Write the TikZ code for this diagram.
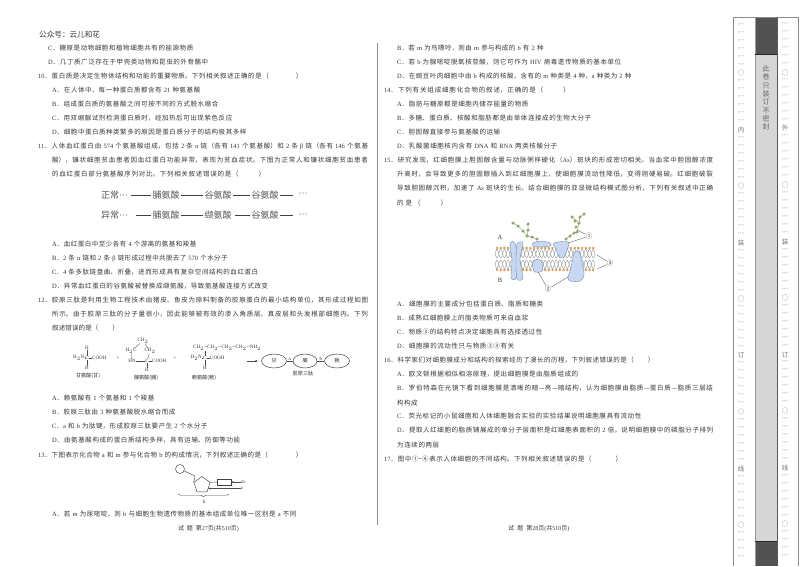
\documentclass[tikz,border=0pt]{standalone}
\usepackage{fontspec}
\usetikzlibrary{shapes.geometric,decorations.pathreplacing,arrows.meta,calc}
\setmainfont{Noto Sans CJK SC}
\newfontfamily\latf{Liberation Serif}
\newcommand\EN[1]{{\latf #1}}
\XeTeXlinebreaklocale "zh"
\XeTeXlinebreakskip=0pt plus 8pt minus 0.2pt
\newcounter{tc}
\definecolor{ink}{gray}{0.22}
\definecolor{prot}{HTML}{C9D8F2}
\definecolor{protl}{HTML}{6F86A8}
\definecolor{headc}{HTML}{D9A05F}
\definecolor{sug}{HTML}{B9CE7A}
\definecolor{sugl}{HTML}{5F7F4A}
\newcommand\body{\fontsize{6.5}{8}\selectfont}
\newcommand\txtl[4]{\stepcounter{tc}\node[bodytext,text width=\dimexpr#3pt-#1pt\relax] (t\arabic{tc}) at (#1,#2)
  {\noindent\parfillskip=0pt\tolerance=10000\hbadness=10000\hfuzz=5pt\strut#4\par};}
\newcommand\dotscol[1]{\foreach \yy in {#1} {\node[dotmark] at (\cx,\yy) {···};}}
\tikzset{
  bodytext/.style={anchor=west,inner sep=0pt,text=ink,font=\body},
  dotmark/.style={inner sep=0pt,text=black!70,font=\latf\fontsize{6.5}{7}\selectfont},
  marktext/.style={inner sep=0pt,text=black!55,font=\fontsize{6.5}{7}\selectfont},
  amino/.style={inner sep=1pt,text=black!65,font=\fontsize{9}{10}\selectfont},
  aminoline/.style={line width=0.9pt,black!75},
  chem/.style={inner sep=0pt,text=ink,font=\latf\fontsize{5}{6}\selectfont},
  chemlab/.style={inner sep=0pt,text=ink,font=\fontsize{5.2}{6}\selectfont},
  bond/.style={line width=0.3pt,black!70},
  aaell/.style={draw=black!80,line width=0.45pt,ellipse,inner sep=0pt,text=ink,font=\fontsize{5}{6}\selectfont},
  protein/.style={fill=prot,draw=protl,line width=0.35pt},
  sugar/.style={circle,fill=sug,draw=sugl,line width=0.3pt,inner sep=0pt,minimum size=2.6pt},
  callout/.style={line width=0.3pt,black!70},
  circnum/.style={inner sep=0pt,text=ink,font=\fontsize{6.5}{7}\selectfont},
  nucl/.style={draw=black!70,line width=0.45pt}
}
\begin{document}
\begin{tikzpicture}[x=1pt,y=-1pt]
\useasboundingbox (0,0) rectangle (800,566);
\fill[white] (0,0) rectangle (800,566);
% page rules
\draw[black!45,line width=0.6pt] (377,43) -- (377,525);
% binding margin
\fill[black!16] (755,17) rectangle (777,566);
\fill[black!68] (755,17) rectangle (777,54.5);
\fill[black!68] (755,541) rectangle (777,566);
\draw[black!45,line width=0.8pt] (733,566) -- (733,17) -- (798,17) -- (798,566);
\draw[black!40,line width=0.8pt] (755,17) -- (755,566);
\draw[black!65,line width=0.8pt] (777,17) -- (777,566);
\draw[black!85,line width=0.6pt] (755,54.5) -- (777,54.5) (755,541) -- (777,541);
\node[inner sep=0pt,text=black!60,align=center,font=\fontsize{7}{8.3}\selectfont] (seal) at (766,98) {此\\卷\\只\\装\\订\\不\\密\\封};
\def\cx{741}
\dotscol{25,33,41,49,57,65,81,89,97,105,113,121,138,146,154,162,170,178,194,202,210,218,226,234,251,259,267,275,283,291,307,315,323,331,339,347,363,371,379,387,395,403,420,428,436,444,452,460,477,485,493,501,509,517,533,541,549,557}
\node[marktext] (l1) at (\cx,73) {○}; \node[marktext] (l2) at (\cx,130) {内}; \node[marktext] (l3) at (\cx,186) {○};
\node[marktext] (l4) at (\cx,243) {装}; \node[marktext] (l5) at (\cx,299) {○}; \node[marktext] (l6) at (\cx,355) {订};
\node[marktext] (l7) at (\cx,412) {○}; \node[marktext] (l8) at (\cx,469) {线}; \node[marktext] (l9) at (\cx,525) {○};
\def\cx{785}
\dotscol{24,32,40,48,56,64,80,88,96,104,112,120,136,144,152,160,168,176,193,201,209,217,225,233,250,258,266,274,282,290,306,314,322,330,338,346,362,370,378,386,394,402,419,427,435,443,451,459,476,484,492,500,508,516,532,540,548,556}
\node[marktext] (r1) at (\cx,73) {○}; \node[marktext] (r2) at (\cx,128) {外}; \node[marktext] (r3) at (\cx,185) {○};
\node[marktext] (r4) at (\cx,242) {装}; \node[marktext] (r5) at (\cx,298) {○}; \node[marktext] (r6) at (\cx,355) {订};
\node[marktext] (r7) at (\cx,411) {○}; \node[marktext] (r8) at (\cx,468) {线}; \node[marktext] (r9) at (\cx,524) {○};

% left column
\node[anchor=west,inner sep=0pt,text=ink,font=\fontsize{7.6}{9}\selectfont] (wx) at (39,35) {公众号：云儿和花};
\txtl{48}{49}{194}{\EN{C}．糖原是动物细胞和植物细胞共有的能源物质}
\txtl{48}{63}{209}{\EN{D}．几丁质广泛存在于甲壳类动物和昆虫的外骨骼中}
\txtl{38}{77}{303}{\EN{10}．蛋白质是决定生物体结构和功能的重要物质。下列相关叙述正确的是（\hspace{27pt}）}
\txtl{52}{91}{201}{\EN{A}．在人体中，每一种蛋白质都含有\EN{ 21 }种氨基酸}
\txtl{52}{105}{219}{\EN{B}．组成蛋白质的氨基酸之间可按不同的方式脱水缩合}
\txtl{52}{118.5}{233}{\EN{C}．用双缩脲试剂检测蛋白质时，经加热后可出现紫色反应}
\txtl{52}{133}{247}{\EN{D}．细胞中蛋白质种类繁多的原因是蛋白质分子的结构极其多样}
\txtl{38}{147}{369}{\EN{11}．人体血红蛋白由\EN{ 574 }个氨基酸组成，包括\EN{ 2 }条\EN{ α }链（各有\EN{ 141 }个氨基酸）和\EN{ 2 }条\EN{ β }链（各有\EN{ 146 }个氨基}
\txtl{52}{161}{369}{酸），镰状细胞贫血患者因血红蛋白功能异常，表现为贫血症状。下图为正常人和镰状细胞贫血患者}
\txtl{52}{175}{266}{的血红蛋白部分氨基酸序列对比。下列相关叙述错误的是（\hspace{20pt}）}
% amino acid rows
\node[amino,anchor=west] (a0) at (100,195) {正常{\latf ···}};
\node[amino] (a1) at (166,195) {脯氨酸};
\node[amino] (a2) at (218,195) {谷氨酸};
\node[amino] (a3) at (265,195) {谷氨酸};
\node[amino,font=\latf\fontsize{9}{10}\selectfont] (a4) at (303,195) {···};
\draw[aminoline] ([xshift=2pt]a0.east) -- (a1);
\draw[aminoline] (a1) -- (a2);
\draw[aminoline] (a2) -- (a3);
\draw[aminoline] (a3) -- ([xshift=-4pt]a4.west);
\node[amino,anchor=west] (b0) at (100,215.5) {异常{\latf ···}};
\node[amino] (b1) at (166,215.5) {脯氨酸};
\node[amino] (b2) at (218,215.5) {缬氨酸};
\node[amino] (b3) at (265,215.5) {谷氨酸};
\node[amino,font=\latf\fontsize{9}{10}\selectfont] (b4) at (303,215.5) {···};
\draw[aminoline] ([xshift=7pt]b0.east) -- (b1);
\draw[aminoline] (b1) -- (b2);
\draw[aminoline] ([xshift=2pt]b2.east) -- (b3);
\draw[aminoline] (b3) -- ([xshift=-4pt]b4.west);
\txtl{52}{245}{197}{\EN{A}．血红蛋白中至少各有\EN{ 4 }个游离的氨基和羧基}
\txtl{52}{259}{228}{\EN{B}．\EN{2 }条\EN{ α }链和\EN{ 2 }条\EN{ β }链形成过程中共脱去了\EN{ 570 }个水分子}
\txtl{52}{273}{259}{\EN{C}．\EN{4 }条多肽链盘曲、折叠，进而形成具有复杂空间结构的血红蛋白}
\txtl{52}{287}{269}{\EN{D}．异常血红蛋白的谷氨酸被替换成缬氨酸，导致氨基酸连接方式改变}
\txtl{38}{301}{369}{\EN{12}．胶原三肽是利用生物工程技术由猪皮、鱼皮为原料制备的胶原蛋白的最小结构单位，其形成过程如图}
\txtl{52}{315}{369}{所示。由于胶原三肽的分子量很小，因此能够被有效的渗入角质层、真皮层和头发根部细胞内。下列}
\txtl{52}{329}{119}{叙述错误的是（\hspace{14pt}）}
% chemistry
\node[chem,anchor=east] (g1) at (84.5,358) {H$_2$N};
\node[chem] (g2) at (87,358) {C};
\node[chem,anchor=west] (g3) at (92,358) {COOH};
\node[chem] (g4) at (87,348) {H};
\node[chem] (g5) at (87,368) {H};
\draw[bond] (g1) -- (g2); \draw[bond] (g2) -- (g3); \draw[bond] (g4) -- (g2); \draw[bond] (g2) -- (g5);
\node[chemlab] (g6) at (88,376) {甘氨酸(甘)};
\node[chem] (plus1) at (118,358) {+};
\node[chem] (p1) at (143,341) {CH$_2$};
\node[chem] (p2) at (131,351) {H$_2$C};
\node[chem] (p3) at (150,351) {CH$_2$};
\node[chem] (p4) at (132,361) {HN};
\node[chem] (p5) at (147,361) {C};
\node[chem,anchor=west] (p6) at (152,361) {COOH};
\node[chem] (p7) at (147,370) {H};
\draw[bond] (p1) -- (p2); \draw[bond] (p1) -- (p3); \draw[bond] (p2) -- (p4); \draw[bond] (p4) -- (p5); \draw[bond] (p3) -- (p5); \draw[bond] (p5) -- (p6); \draw[bond] (p5) -- (p7);
\node[chemlab] (p8) at (146,377.5) {脯氨酸(脯)};
\node[chem] (plus2) at (175,358) {+};
\node[chem,anchor=east] (k1) at (202,358) {H$_2$N};
\node[chem] (k2) at (205,358) {C};
\node[chem,anchor=west] (k3) at (210,358) {COOH};
\node[chem,anchor=west] (k4) at (193,348) {CH$_2$--CH$_2$--CH$_2$--CH$_2$--NH$_2$};
\node[chem] (k5) at (205,368) {H};
\draw[bond] (k1) -- (k2); \draw[bond] (k2) -- (k3); \draw[bond] (k2) -- (k2|-k4.south); \draw[bond] (k2) -- (k5);
\node[chemlab] (k6) at (204,378) {赖氨酸(赖)};
\coordinate (ar1) at (247,361);
\coordinate (ar2) at (258,361);
\draw[bond,line width=0.5pt,-{Stealth[length=3pt,width=2.4pt]}] (ar1) -- (ar2);
\node[aaell,minimum width=25pt,minimum height=14pt] (e1) at (274,361) {甘};
\node[aaell,minimum width=24pt,minimum height=14pt] (e2) at (305,361) {脯};
\node[aaell,minimum width=25pt,minimum height=14pt] (e3) at (337,361) {赖};
\draw[bond,line width=0.4pt] (e1) -- node[chem,above,yshift=0.5pt] (ea) {a} (e2);
\draw[bond,line width=0.4pt] (e2) -- node[chem,above,yshift=0.5pt] (eb) {b} (e3);
\node[chemlab] (elab) at (303,374) {胶原三肽};
\txtl{52}{399}{155}{\EN{A}．赖氨酸有\EN{ 1 }个氨基和\EN{ 1 }个羧基}
\txtl{52}{413}{176}{\EN{B}．胶原三肽由\EN{ 3 }种氨基酸脱水缩合而成}
\txtl{52}{427}{208}{\EN{C}．\EN{a }和\EN{ b }为肽键，形成胶原三肽要产生\EN{ 2 }个水分子}
\txtl{52}{441}{241}{\EN{D}．由氨基酸构成的蛋白质结构多样，具有运输、防御等功能}
\txtl{38}{456}{303}{\EN{13}．下图表示化合物\EN{ a }和\EN{ m }参与化合物\EN{ b }的构成情况，下列叙述正确的是（\hspace{28pt}）}
% nucleotide
\node[draw=black!75,line width=0.45pt,circle,minimum size=9pt,inner sep=0pt] (nc) at (180,469) {};
\node[draw=black!75,line width=0.45pt,regular polygon,regular polygon sides=5,minimum size=17pt,inner sep=0pt] (np) at (202,485) {};
\node[draw=black!75,line width=0.45pt,minimum width=14pt,minimum height=6.5pt,inner sep=0pt] (nb) at (224,482) {};
\node[chem,anchor=west] (nm) at (241,482) {m};
\node[chem,anchor=west] (na) at (240.5,488.5) {a};
\node[chem] (nbb) at (204,502) {b};
\draw[nucl] (nc) -- (195,476) -- (np.corner 2);
\draw[nucl] (np.corner 5) -- (nb);
\draw[nucl,-{Stealth[length=2.5pt,width=2pt]}] (nm) -- (nb);
\draw[nucl,-{Stealth[length=2.5pt,width=2pt]}] (na) -- (208,488.5);
\coordinate (brl) at (178,494);
\coordinate (brr) at (229,494);
\draw[nucl,decorate,decoration={brace,mirror,amplitude=2.5pt}] (brl) -- (brr);
\txtl{52}{515}{297}{\EN{A}．若\EN{ m }为尿嘧啶，则\EN{ b }与细胞生物遗传物质的基本组成单位唯一区别是\EN{ a }不同}
\txtl{178}{529}{243}{\fontsize{6}{8}\selectfont 试题\hspace{3pt}第\EN{27}页\EN{(}共\EN{510}页\EN{)}}

% right column
\txtl{397}{49}{544}{\EN{B}．若\EN{ m }为鸟嘌呤，则由\EN{ m }参与构成的\EN{ b }有\EN{ 2 }种}
\txtl{397}{63}{622}{\EN{C}．若\EN{ b }为腺嘧啶脱氧核苷酸，则它可作为\EN{ HIV }病毒遗传物质的基本单位}
\txtl{397}{77}{632}{\EN{D}．在豌豆叶肉细胞中由\EN{ b }构成的核酸，含有的\EN{ m }种类是\EN{ 4 }种，\EN{a }种类为\EN{ 2 }种}
\txtl{384}{91}{571}{\EN{14}．下列有关组成细胞化合物的叙述，正确的是（\hspace{20pt}）}
\txtl{397}{105}{529}{\EN{A}．脂肪与糖原都是细胞内储存能量的物质}
\txtl{397}{119}{592}{\EN{B}．多糖、蛋白质、核酸和脂肪都是由单体连接成的生物大分子}
\txtl{397}{133}{501}{\EN{C}．胆固醇直接参与氨基酸的运输}
\txtl{397}{147}{558}{\EN{D}．乳酸菌细胞核内含有\EN{ DNA }和\EN{ RNA }两类核酸分子}
\txtl{384}{161}{714}{\EN{15}．研究发现，红细胞膜上胆固醇含量与动脉粥样硬化（\EN{As}）斑块的形成密切相关。当血浆中胆固醇浓度}
\txtl{397}{175}{714}{升高时，会导致更多的胆固醇插入到红细胞膜上，使细胞膜流动性降低，变得刚硬易破。红细胞破裂}
\txtl{397}{189}{714}{导致胆固醇沉积，加速了\EN{ As }斑块的生长。结合细胞膜的亚显微结构模式图分析，下列有关叙述中正确}
\txtl{397}{204}{450}{的是（\hspace{20pt}）}
% membrane
\foreach \x in {497,500.7,...,596} {
  \draw[black!55,line width=0.25pt] (\x,249) .. controls (\x+2.4,253) and (\x+2.4,255) .. (\x,258);
  \draw[black!55,line width=0.25pt] (\x,249) .. controls (\x-2.4,253) and (\x-2.4,255) .. (\x,258);
  \draw[black!55,line width=0.25pt] (\x,260) .. controls (\x+2.4,263) and (\x+2.4,265) .. (\x,269);
  \draw[black!55,line width=0.25pt] (\x,260) .. controls (\x-2.4,263) and (\x-2.4,265) .. (\x,269);
  \fill[headc] (\x,248) circle (1.45pt);
  \fill[headc] (\x,270) circle (1.45pt);
}
\draw[protein] plot[smooth cycle,tension=0.5] coordinates {(510,243)(515,243)(517,258)(516,278)(511,278)(512,260)};
\draw[protein] plot[smooth cycle,tension=0.5] coordinates {(517,244)(523,243)(520,260)(523,278)(517,279)(516,262)};
\draw[protein] plot[smooth cycle,tension=0.6] coordinates {(533,243)(541,241)(550,243)(550,246)(540,247)(533,246)};
\draw[protein] plot[smooth cycle,tension=0.6] coordinates {(554,243)(568,242)(567,250)(563,258)(559,256)(556,249)};
\draw[protein] plot[smooth cycle,tension=0.6] coordinates {(533,262)(538,259)(542,263)(542,271)(535,272)(533,268)};
\draw[protein] plot[smooth cycle,tension=0.6] coordinates {(574,253)(579,252)(582,262)(584,275)(580,281)(570,281)(568,277)(571,268)};
\draw[sugl,line width=0.3pt] (513,223) -- (518,226) -- (523,231) -- (527,236) -- (532,237) -- (537,239);
\draw[sugl,line width=0.3pt] (528,224) -- (528,230) -- (527,236);
\draw[sugl,line width=0.3pt] (566,239) -- (570,236) -- (574,233) -- (577,232) -- (579,223) -- (572,217);
\draw[sugl,line width=0.3pt] (579,223) -- (580,217) -- (584,214);
\foreach \p in {(513,223),(518,226),(523,231),(527,236),(532,237),(537,239),(528,224),(528,230),
  (566,239),(570,236),(574,233),(577,232),(579,223),(576,227),(572,217),(575,221),(580,217),(584,214)}
  \node[sugar] at \p {};
\node[chem,font=\latf\fontsize{6.5}{7}\selectfont] (mA) at (500,237) {A};
\node[chem,font=\latf\fontsize{6.5}{7}\selectfont] (mB) at (500,280) {B};
\node[circnum] (c1) at (589,236) {①};
\node[circnum] (c2) at (548,289) {②};
\node[circnum] (c3) at (610,263) {③};
\coordinate (t1a) at (577,230); \coordinate (t1b) at (568,243);
\coordinate (t2a) at (538,272); \coordinate (t2b) at (568,277);
\coordinate (t3a) at (597,255); \coordinate (t3b) at (597,269);
\draw[callout] (c1) -- (t1a); \draw[callout] (c1) -- (t1b);
\draw[callout] (c2) -- (t2a); \draw[callout] (c2) -- (t2b);
\draw[callout] (c3) -- (t3a); \draw[callout] (c3) -- (t3b);

\txtl{397}{305}{544}{\EN{A}．细胞膜的主要成分包括蛋白质、脂质和糖类}
\txtl{397}{319}{529}{\EN{B}．成熟红细胞膜上的脂类物质可来自血浆}
\txtl{397}{333}{543}{\EN{C}．物质③的结构特点决定细胞具有选择透过性}
\txtl{397}{347}{515}{\EN{D}．细胞膜的流动性只与物质②③有关}
\txtl{384}{361}{655}{\EN{16}．科学家们对细胞膜成分和结构的探索经历了漫长的历程，下列叙述错误的是（\hspace{14pt}）}
\txtl{397}{375}{579}{\EN{A}．欧文顿根据相似相溶原理，提出细胞膜是由脂质组成的}
\txtl{397}{389}{714}{\EN{B}．罗伯特森在光镜下看到细胞膜是清晰的暗—亮—暗结构，认为细胞膜由脂质—蛋白质—脂质三层结}
\txtl{397}{404}{418}{构构成}
\txtl{397}{417}{642}{\EN{C}．荧光标记的小鼠细胞和人体细胞融合实验的实验结果说明细胞膜具有流动性}
\txtl{397}{431}{714}{\EN{D}．提取人红细胞的脂质铺展成的单分子层面积是红细胞表面积的\EN{ 2 }倍，说明细胞膜中的磷脂分子排列}
\txtl{397}{446}{440}{为连续的两层}
\txtl{384}{460}{623}{\EN{17}．图中①\textasciitilde④表示人体细胞的不同结构。下列相关叙述错误的是（\hspace{24pt}）}
\fill[ink] (559,464) circle (0.4pt) (567,464) circle (0.4pt) (574,464) circle (0.4pt);
\txtl{508}{529}{574}{\fontsize{6}{8}\selectfont 试题\hspace{3pt}第\EN{28}页\EN{(}共\EN{510}页\EN{)}}
\end{tikzpicture}
\end{document}
